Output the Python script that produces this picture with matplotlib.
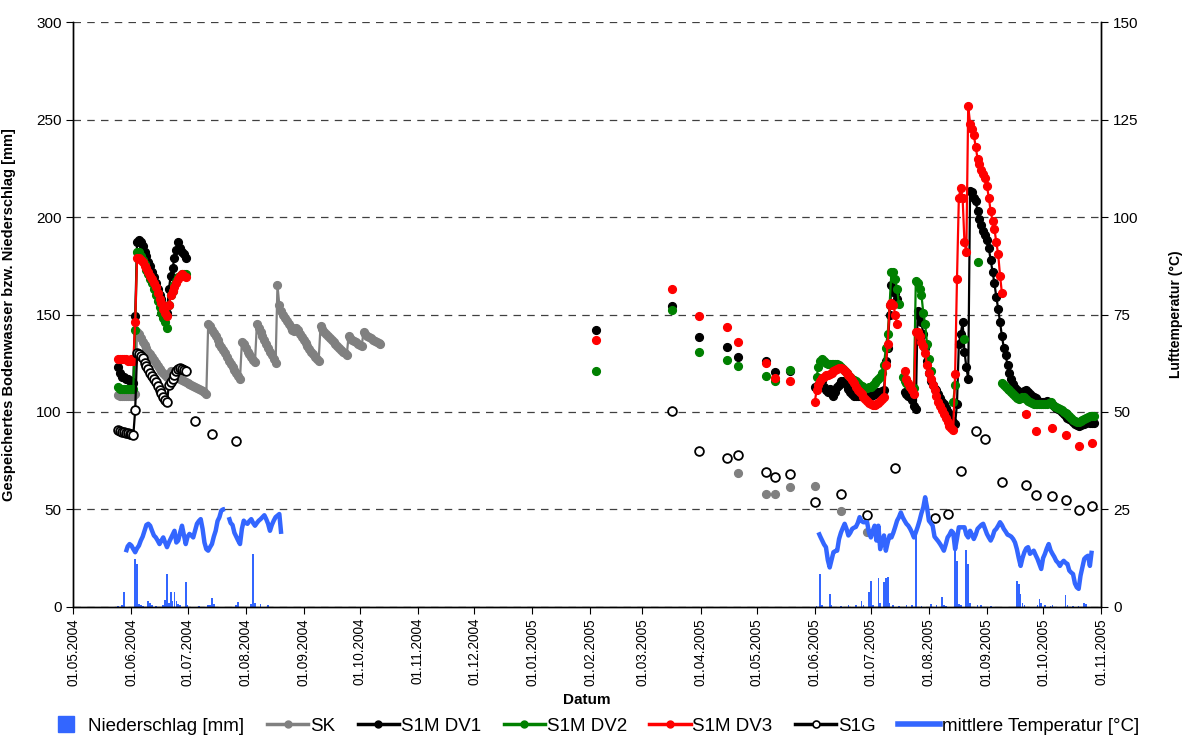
import matplotlib
matplotlib.use('Agg')
import matplotlib.pyplot as plt
import matplotlib.dates as mdates
import numpy as np
import pandas as pd
from matplotlib.lines import Line2D

plt.rcParams['font.family'] = ['Liberation Sans', 'DejaVu Sans']

nan = np.nan

# Colours (Excel style)
C_BLUE = '#3366FF'
C_SK = '#808080'
C_DV1 = '#000000'
C_DV2 = '#008000'
C_DV3 = '#FF0000'

# ---------------- 2004 ----------------
# daily values 25.05.2004 - 30.06.2004
block04_start = '2004-05-25'
dv1_2004 = [123, 120, 118, 118, 117, 117, 116, 116, 115, 149, 187, 188, 187, 185, 182, 180, 177, 175, 172,
            169, 166, 163, 160, 158, 155, 153, 151, 163, 170, 174, 179, 183, 187, 184, 182, 181, 179]
dv2_2004 = [113, 112, 112, 112, 112, 112, 112, 112, 112, 142, 182, 182, 180, 178, 176, 173, 171, 168, 166,
            163, 160, 157, 154, 151, 148, 146, 143, 155, 160, 162, 165, 167, 169, 170, 171, 171, 171]
dv3_2004 = [127, 127, 127, 127, 127, 126, 126, 127, 126, 146, 179, 179, 178, 177, 175, 174, 172, 170, 168,
            166, 164, 161, 158, 156, 153, 151, 149, 155, 160, 162, 164, 166, 168, 170, 171, 170, 169]
s1g_2004 = [90.5, 90, 89.5, 89.5, 89, 89, 88.5, 88.5, 88, 101, 130, 129.5, 128.5, 127.5, 125, 123.5, 122,
            120, 118.5, 117, 115.5, 113.5, 111.5, 109.5, 107.5, 106, 105, 114, 115.5, 117, 119, 121, 122,
            122.5, 122, 121.5, 121]
s1g_2004_dates = ['2004-07-05', '2004-07-14', '2004-07-27']
s1g_2004_pts = [95.5, 88.7, 84.9]

# SK daily 25.05.2004 - 12.10.2004
sk_2004 = [108.5, 108, 108, 108, 108, 108, 108, 108, 108, 109,
           141, 140, 138, 136, 134.5, 133, 131, 129.5, 128, 126.5, 125, 123.5, 122, 121, 120, 119, 118,
           119, 121, 120, 119, 118.5, 118,
           117, 116.5, 116, 115.5, 115, 114.5, 114, 113.5, 113, 112.5, 112, 111, 110.5, 110, 109,
           145, 144, 142, 140.5, 139, 137, 135, 133.5, 132, 130, 128, 126, 124.5, 123, 121.5, 120, 118.5, 117,
           136, 135, 133, 131, 129.5, 128, 126.5, 125.5,
           145, 143, 141, 139, 137, 135, 133, 131, 129, 127, 125,
           165, 155, 152, 150, 148, 146.5, 145, 143.5, 142, 141.5, 143, 142, 140, 138.5, 137, 135.5, 134,
           132.5, 131, 129.5, 128, 127, 126,
           144, 142.5, 141, 140, 139, 138, 137, 136, 135, 134, 133, 132, 131, 130, 129,
           139, 138, 137, 136.5, 136, 135, 134.5, 134,
           141, 140, 139, 138.5, 138, 137, 136.5, 136, 135.5, 135]

# mean air temperature (deg C), daily 29.05.2004 - 20.08.2004
temp_2004_start = '2004-05-29'
temp_2004 = [14.0, 15.5, 16.1, 15.7, 14.8, 14.0, 15.0, 15.7, 17.0, 18.0, 19.5, 21.0, 21.3, 20.8, 19.5,
             18.3, 17.8, 17.0, 16.1, 17.0, 17.8, 16.5, 15.3, 16.5, 17.5, 18.5, 19.5, 16.5, 17.0, 19.0,
             20.8, 18.5, 16.1, 18.0, 18.7, 18.3, 17.8, 19.5, 21.3, 22.0, 22.5, 20.0, 16.5, 14.8, 14.4,
             15.3, 16.1, 18.0, 19.5, 22.0, 23.0, 24.7, 25.0, 25.1, nan, 23.0, 21.5, 21.0, 19.0, 18.0,
             17.0, 16.1, 20.0, 22.1, 21.5, 21.3, 22.0, 22.5, 21.5, 20.8, 21.5, 22.1, 22.5, 23.0, 23.5,
             22.5, 21.3, 19.5, 21.0, 22.1, 23.0, 23.4, 23.8, 18.7]

precip_2004_dates = ['2004-05-25', '2004-05-27', '2004-05-28', '2004-06-03', '2004-06-04', '2004-06-05',
                     '2004-06-06', '2004-06-07', '2004-06-10', '2004-06-11', '2004-06-12', '2004-06-14',
                     '2004-06-18', '2004-06-19', '2004-06-20', '2004-06-21', '2004-06-22', '2004-06-23',
                     '2004-06-24', '2004-06-25', '2004-06-26', '2004-06-27', '2004-06-30', '2004-07-01',
                     '2004-07-07', '2004-07-12', '2004-07-13', '2004-07-14', '2004-07-15', '2004-07-27',
                     '2004-07-28', '2004-08-04', '2004-08-05', '2004-08-06', '2004-08-09', '2004-08-13']
precip_2004 = [0.5, 1, 7.5, 24.5, 22, 1.5, 1, 0.5, 3, 2, 1, 0.5, 1, 3.5, 17, 2, 7.5, 3, 7.5, 3, 1.5, 1,
               12.5, 1, 0.5, 1, 1, 4.5, 1.5, 1, 2.5, 1.5, 27, 2, 1.5, 1]

# ---------------- 2005 ----------------
# single measurements before the daily record
sparse_dates = ['2005-02-04', '2005-03-17', '2005-03-31', '2005-04-15', '2005-04-21',
                '2005-05-06', '2005-05-11', '2005-05-19']
dv1_sparse = [142.3, 154.6, 138.7, 133.2, 128, 126.3, 120.3, 121.2]
dv2_sparse = [120.9, 152.5, 130.5, 126.7, 123.8, 118.6, 116.1, 121.7]
dv3_sparse = [137, 163.2, 149, 143.8, 135.7, 125, 117.5, 116.1]

sk_2005_dates = ['2005-04-21', '2005-05-06', '2005-05-11', '2005-05-19', '2005-06-01', '2005-06-15', '2005-06-29']
sk_2005_pts = [68.5, 58, 58, 61.6, 61.8, 49, 38.2]

s1g_2005_dates = ['2005-03-17', '2005-03-31', '2005-04-15', '2005-04-21', '2005-05-06', '2005-05-11',
                  '2005-05-19', '2005-06-01', '2005-06-15', '2005-06-29', '2005-07-14', '2005-08-04',
                  '2005-08-11', '2005-08-18', '2005-08-26', '2005-08-31', '2005-09-09', '2005-09-22',
                  '2005-09-27', '2005-10-06', '2005-10-13', '2005-10-20', '2005-10-27']
s1g_2005_pts = [100.3, 80.1, 76.4, 78.1, 69, 66.8, 68.1, 54, 58, 47.3, 71, 45.6, 47.6, 69.5, 90.4, 86,
                64, 62.5, 57.5, 56.7, 54.8, 49.8, 51.9]

dv3_autumn_dates = ['2005-09-22', '2005-09-27', '2005-10-06', '2005-10-13', '2005-10-20', '2005-10-27']
dv3_autumn_pts = [99, 90.4, 91.8, 88.2, 82.3, 84]

# daily record from 01.06.2005
block05_start = '2005-06-01'
dv1_2005 = [113, 112, 114, 115, 116, 113, 111, 110, 112, 109,
            108, 110, 113, 114, 116, 116, 115, 114, 112, 110,
            109, 108, 108, 108, 108, 109, 109, 109, 108.5, 108,
            108, 108.5, 109, 109.5, 110, 110, 110.5, 111, 126, 133,
            150, 165, 164, 161, 158, nan, nan, nan, 110, 109,
            108, 107.5, 106, 103, 101.5, 152, 148.5, 146, 140, 133,
            126, 120, 116, 114, 112, 111, 109, 107, 105, 104,
            102, 100, 98, 96, 95, 94, 104, 135, 140, 146,
            131, 123, 117, 213.5, 213, 210, 208, 203, 199, 196,
            193, 191, 188, 184, 178, 172, 166, 159, 153, 146,
            139, 133, 129, 124, 120, 117, 114.5, 112.5, 111, 110,
            109.5, 109.5, 110.5, 111, 110, 109, 108, 107.5, 107, 106,
            105, 105, 105, 105, 105.5, 105, 104.5, 104, 103, 102,
            101.5, 101, 100, 99, 98, 97, 96.5, 96, 95, 94,
            93.5, 93, 93.5, 94, 94, 94.5, 95, 94.5, 94.5, 94.5]
dv2_2005 = [nan, 118, 123, 126, 127, 126, 125, 124.5, 124.5, 124.5,
            124.5, 124.5, 124.5, 124, 123, 122, 121, 120, 119, 118,
            117, 116.5, 116, 115, 114, 113.5, 113, 112.5, 112.5, 113,
            113, 114, 115, 116, 117, 118, 120, 124, 133, 140,
            155, 172, 172, 168, 163, 155.5, nan, 118, 116, 115,
            114, 113, 112.5, 112.5, 167, 166, 163, 160, 151, 145,
            135, 127, 121, nan, nan, nan, nan, nan, nan, nan,
            nan, nan, nan, nan, 105, 114, nan, nan, nan, nan,
            137.5, nan, nan, nan, nan, nan, nan, 177, nan, nan,
            nan, nan, nan, nan, nan, nan, nan, nan, nan, nan,
            115, 114, 113, 112, 111, 110, 109, 108, 107, 106.5,
            107, 107.5, 107.5, 106.5, 105.5, 105, 104.5, 104, 104, 104,
            104, 104, 104, 104, 104, 104.5, 105, 104, 103, 102.5,
            102, 101.5, 101, 100, 99.5, 99, 98, 97, 96, 95.5,
            95, 95, 95.5, 96, 96.5, 97, 97.5, 98, 98, 98]
dv3_2005 = [105, 111, 114, 116, 117.5, 118, 119, 119, 119.5, 120,
            121, 121.5, 122, 122.5, 122.5, 122, 121, 120, 119, 118,
            116.5, 115, 113, 111.5, 110, 109, 107.5, 106.5, 105.5, 104.5,
            104, 103.5, 103.5, 104, 104.5, 105.5, 106.5, 107.5, 124, 135,
            155, 156, 155, 150, 145, nan, nan, nan, 121, 117,
            115, 113, 111, 109, 141, 141, 139, 136, 134, 130,
            124, 120, 117, 114, 111, 108, 105, 103, 101, 99,
            97, 95, 93, 92, 90.5, 119.5, 168, 210, 215, 210,
            187, 182, 257, 248, 245, 242, 236, 230, 227, 224,
            222, 220, 216, 210, 203, 198, 194, 187, 181, 170,
            161]

# mean air temperature (deg C), daily 03.06.2005 - 27.10.2005
temp_2005_start = '2005-06-03'
temp_2005 = [19.1, 18.0, 17.0, 16.0, 15.3, 12.0, 10.1, 12.0, 14.0, 14.3, 14.4, 17.4, 19.0, 20.2, 21.3,
             20.0, 18.3, 19.0, 20.0, 20.3, 20.5, 21.5, 23.0, 22.0, 21.7, 21.7, 21.7, 19.0, 17.8, 19.5,
             20.8, 17.0, 20.8, 14.8, 16.5, 18.3, 14.4, 16.5, 18.3, 17.8, 19.0, 20.5, 22.1, 23.0, 24.2,
             23.0, 22.1, 21.3, 20.8, 20.0, 19.0, 17.8, 19.1, 20.5, 22.1, 24.0, 25.5, 28.1, 25.5, 22.1,
             21.5, 20.8, 18.0, 17.4, 16.8, 16.1, 15.3, 14.4, 16.0, 17.8, 18.5, 19.5, 19.0, 14.8, 17.5,
             20.4, 20.4, 20.4, 20.4, 18.5, 17.8, 19.5, 18.5, 17.4, 18.5, 20.0, 20.5, 21.0, 21.3, 20.0,
             18.7, 17.8, 17.0, 18.0, 19.5, 20.0, 20.8, 21.7, 21.0, 20.0, 19.3, 18.5, 18.3, 18.0, 17.4,
             16.5, 14.8, 12.5, 10.5, 12.5, 14.0, 15.0, 15.3, 13.6, 14.0, 14.4, 13.3, 12.3, 11.0, 9.7,
             12.5, 13.6, 15.0, 16.1, 14.5, 13.6, 12.8, 11.8, 11.3, 10.5, 11.3, 11.8, 11.3, 11.0, 9.3,
             8.8, 8.4, 6.0, 5.0, 4.6, 8.0, 10.1, 12.3, 12.8, 13.1, 10.5, 14.4]

precip_2005_dates = ['2005-06-02', '2005-06-04', '2005-06-05', '2005-06-09', '2005-06-10', '2005-06-15',
                     '2005-06-19', '2005-06-23', '2005-06-26', '2005-06-27', '2005-06-30', '2005-07-01',
                     '2005-07-02', '2005-07-05', '2005-07-06', '2005-07-08', '2005-07-09', '2005-07-10',
                     '2005-07-11', '2005-07-13', '2005-07-16', '2005-07-20', '2005-07-23', '2005-07-25',
                     '2005-07-28', '2005-08-02', '2005-08-05', '2005-08-08', '2005-08-09', '2005-08-10',
                     '2005-08-15', '2005-08-16', '2005-08-17', '2005-08-18', '2005-08-21', '2005-08-22',
                     '2005-08-23', '2005-08-27', '2005-08-29', '2005-09-03', '2005-09-17', '2005-09-18',
                     '2005-09-19', '2005-09-20', '2005-09-21', '2005-09-28', '2005-09-29', '2005-09-30',
                     '2005-10-02', '2005-10-05', '2005-10-06', '2005-10-13', '2005-10-14', '2005-10-17',
                     '2005-10-20', '2005-10-23', '2005-10-24']
precip_2005 = [0.5, 17, 1, 6.8, 1, 0.5, 1, 1, 3, 1, 7.4, 13.3, 1, 14.7, 2, 12.5, 14.7, 15.1, 2, 1, 0.5,
               1, 1, 39, 0.5, 1.5, 1, 5, 1, 0.5, 28.8, 23.6, 1.5, 1, 29, 22, 2, 1, 1, 0.5, 13, 11.6,
               6.5, 2, 1, 1, 4, 2, 1, 0.5, 1, 6.2, 1, 0.5, 0.5, 2, 1.5]

# ---------------- helpers ----------------
DAYS = pd.date_range('2004-05-01', '2005-11-01', freq='D')


def daily(start, values):
    return pd.Series(values, index=pd.date_range(start, periods=len(values), freq='D'), dtype=float)


def pts(dates, values):
    return pd.Series(values, index=pd.to_datetime(dates), dtype=float)


def build(*parts):
    s = pd.Series(np.nan, index=DAYS)
    for p in parts:
        s.loc[p.index] = p.values
    return s


sk = build(daily(block04_start, sk_2004), pts(sk_2005_dates, sk_2005_pts))
dv1 = build(daily(block04_start, dv1_2004), pts(sparse_dates, dv1_sparse), daily(block05_start, dv1_2005))
dv2 = build(daily(block04_start, dv2_2004), pts(sparse_dates, dv2_sparse), daily(block05_start, dv2_2005))
dv3 = build(daily(block04_start, dv3_2004), pts(sparse_dates, dv3_sparse), daily(block05_start, dv3_2005),
            pts(dv3_autumn_dates, dv3_autumn_pts))
s1g = build(daily(block04_start, s1g_2004), pts(s1g_2004_dates, s1g_2004_pts), pts(s1g_2005_dates, s1g_2005_pts))
temp = build(daily(temp_2004_start, temp_2004), daily(temp_2005_start, temp_2005))

# ---------------- plot ----------------
fig = plt.figure(figsize=(11.84, 7.4), dpi=100)
ax = fig.add_axes([0.062, 0.180, 0.868, 0.790])
ax2 = ax.twinx()

ax.bar(pd.to_datetime(precip_2004_dates + precip_2005_dates), precip_2004 + precip_2005,
       width=0.9, color=C_BLUE, zorder=2)

ms = 5.6
ax.plot(sk.index, sk.values, '-o', color=C_SK, lw=1.6, ms=ms, zorder=3)
ax.plot(dv1.index, dv1.values, '-o', color=C_DV1, lw=1.6, ms=ms, zorder=4)
ax.plot(dv2.index, dv2.values, '-o', color=C_DV2, lw=1.6, ms=ms, zorder=5)
ax.plot(dv3.index, dv3.values, '-o', color=C_DV3, lw=1.6, ms=ms, zorder=6)
ax.plot(s1g.index, s1g.values, '-o', color='black', lw=1.6, ms=6.3, mfc='white', mec='black', mew=1.3,
        zorder=7)

ax2.plot(temp.index, temp.values, '-', color=C_BLUE, lw=3.2, solid_capstyle='butt')

ax.set_xlim(pd.Timestamp('2004-05-01'), pd.Timestamp('2005-11-01'))
ax.set_ylim(0, 300)
ax.set_yticks(np.arange(0, 301, 50))
ax2.set_ylim(0, 150)
ax2.set_yticks(np.arange(0, 151, 25))

ax.set_axisbelow(True)
ax.yaxis.grid(True, linestyle=(0, (6, 5)), color='#404040', lw=0.9)
ax.xaxis.grid(False)

ax.xaxis.set_major_locator(mdates.MonthLocator())
ax.xaxis.set_major_formatter(mdates.DateFormatter('%d.%m.%Y'))
for lab in ax.get_xticklabels():
    lab.set_rotation(90)
ax.tick_params(axis='x', labelsize=9.8, length=5, direction='out', pad=3)
ax.tick_params(axis='y', labelsize=11, length=5, direction='out')
ax2.tick_params(axis='y', labelsize=11, length=5, direction='out')

for a in (ax, ax2):
    a.spines['top'].set_visible(False)
    for side in ('left', 'right', 'bottom'):
        a.spines[side].set_linewidth(1.0)
        a.spines[side].set_color('black')

ax.set_ylabel('Gespeichertes Bodenwasser bzw. Niederschlag [mm]', fontweight='bold', fontsize=10.5)
ax.yaxis.set_label_coords(-0.056, 0.5)
ax2.set_ylabel('Lufttemperatur (°C)', fontweight='bold', fontsize=10, rotation=90)
ax2.yaxis.set_label_coords(1.066, 0.5)
ax.set_xlabel('Datum', fontweight='bold', fontsize=11)
ax.xaxis.set_label_coords(0.5, -0.147)

handles = [
    Line2D([], [], ls='none', marker='s', ms=12, color=C_BLUE),
    Line2D([], [], color=C_SK, lw=2.5, marker='o', ms=5),
    Line2D([], [], color=C_DV1, lw=2.5, marker='o', ms=5),
    Line2D([], [], color=C_DV2, lw=2.5, marker='o', ms=5),
    Line2D([], [], color=C_DV3, lw=2.5, marker='o', ms=5),
    Line2D([], [], color='black', lw=2.5, marker='o', ms=5, mfc='white', mec='black', mew=1.2),
    Line2D([], [], color=C_BLUE, lw=4),
]
labels = ['Niederschlag [mm]', 'SK', 'S1M DV1', 'S1M DV2', 'S1M DV3', 'S1G', 'mittlere Temperatur [°C]']
fig.legend(handles, labels, loc='lower center', bbox_to_anchor=(0.5, -0.016), ncol=7, frameon=False,
           fontsize=13.5, handlelength=2.2, handletextpad=0.1, columnspacing=1.2)

fig.savefig('out.png', dpi=100)
